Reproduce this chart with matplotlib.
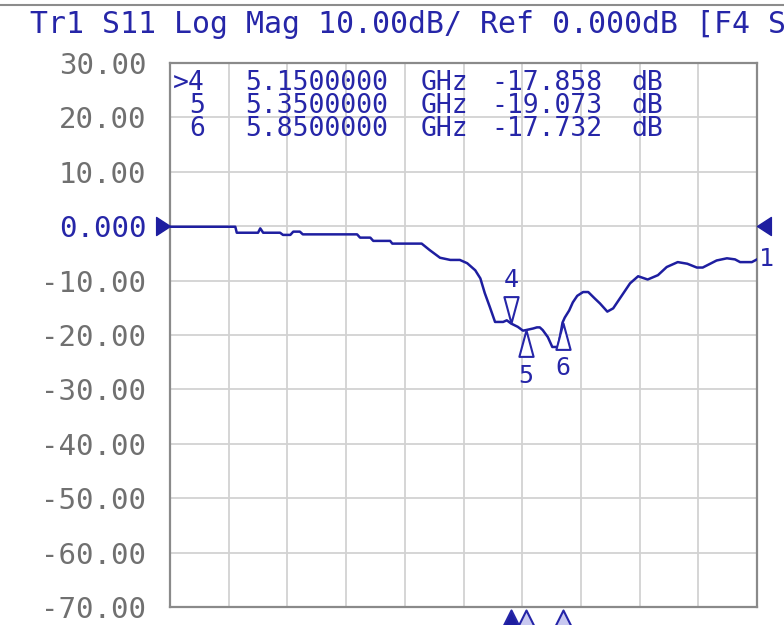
import numpy as np
import matplotlib.pyplot as plt
from matplotlib.path import Path
from matplotlib.lines import Line2D
import matplotlib.transforms as mtransforms

# S11 trace (GHz, dB)
freq_ghz = [0.50, 1.39, 1.41, 1.70, 1.73, 1.77, 2.00, 2.04, 2.14, 2.18,
            2.27, 2.31, 3.05, 3.09, 3.23, 3.27, 3.50, 3.53, 3.93, 4.04,
            4.18, 4.32, 4.45, 4.55, 4.66, 4.73, 4.79, 4.86, 4.93, 5.04,
            5.09, 5.15, 5.24, 5.31, 5.35, 5.45, 5.50, 5.54, 5.58, 5.65,
            5.71, 5.79, 5.85, 5.88, 5.94, 5.99, 6.05, 6.13, 6.20, 6.29,
            6.36, 6.46, 6.54, 6.66, 6.77, 6.88, 7.01, 7.15, 7.27, 7.42,
            7.55, 7.68, 7.76, 7.95, 8.09, 8.20, 8.27, 8.43, 8.50]
s11_db = [-0.1, -0.1, -1.2, -1.2, -0.4, -1.2, -1.2, -1.6, -1.6, -1.0,
          -1.0, -1.5, -1.5, -2.1, -2.1, -2.7, -2.7, -3.2, -3.2, -4.4,
          -5.8, -6.2, -6.2, -6.8, -8.1, -9.6, -12.3, -14.9, -17.6, -17.6,
          -17.3, -17.9, -18.5, -19.2, -19.1, -18.8, -18.6, -18.6, -19.1, -20.4,
          -22.2, -22.2, -17.7, -16.8, -15.5, -14.0, -12.8, -12.1, -12.1, -13.3,
          -14.2, -15.7, -15.1, -12.7, -10.5, -9.2, -9.8, -9.0, -7.5, -6.6,
          -6.9, -7.6, -7.6, -6.3, -5.9, -6.1, -6.6, -6.6, -6.1]

# markers
mk_ids = ['4', '5', '6']
mk_freq = [5.15, 5.35, 5.85]
mk_db = [-17.858, -19.073, -17.732]
mk_rows = ['>4', '5', '6']
mk_freq_txt = ['5.1500000', '5.3500000', '5.8500000']
mk_db_txt = ['-17.858', '-19.073', '-17.732']

f_start, f_stop = 0.5, 8.5
y_top, y_bot = 30, -70
ytick_vals = [30, 20, 10, 0, -10, -20, -30, -40, -50, -60, -70]
ytick_labels = ['30.00', '20.00', '10.00', '0.000', '-10.00', '-20.00',
                '-30.00', '-40.00', '-50.00', '-60.00', '-70.00']
title = 'Tr1 S11 Log Mag 10.00dB/ Ref 0.000dB [F4 S11]'

blue = '#2626a8'
trace_col = '#1e1ea0'
gray_txt = '#707070'
grid_col = '#d2d2d2'

plt.rcParams['font.family'] = 'DejaVu Sans Mono'
fs = 21
fs_tab = 19

fig = plt.figure(figsize=(7.84, 6.25), dpi=100)
ax = fig.add_axes([170/784, 18/625, 587/784, 544/625])

ax.plot(freq_ghz, s11_db, color=trace_col, lw=1.8, zorder=3)

ax.set_xlim(f_start, f_stop)
ax.set_ylim(y_bot, y_top)
ax.set_xticks(np.linspace(f_start, f_stop, 11))
ax.set_xticklabels([])
ax.set_yticks(ytick_vals)
ax.set_yticklabels(ytick_labels, fontsize=fs)
for lab, v in zip(ax.get_yticklabels(), ytick_vals):
    lab.set_color(blue if v == 0 else gray_txt)
ax.tick_params(length=0, pad=17)
ax.grid(True, color=grid_col, lw=1.3)
ax.set_axisbelow(True)
for s in ax.spines.values():
    s.set_color('#8a8a8a')
    s.set_linewidth(1.6)

# marker shapes (tip at the data point)
down_tri = Path([(-0.27, 1), (0.27, 1), (0, 0), (-0.27, 1)], closed=True)
up_tri = Path([(-0.27, -1), (0.27, -1), (0, 0), (-0.27, -1)], closed=True)
foot_tri = Path([(-0.5, -1), (0.5, -1), (0, 0), (-0.5, -1)], closed=True)
right_tri = Path([(-1, 0.65), (-1, -0.65), (0, 0), (-1, 0.65)], closed=True)
left_tri = Path([(1, 0.65), (1, -0.65), (0, 0), (1, 0.65)], closed=True)

for i in range(len(mk_ids)):
    if i == 0:
        ax.plot(mk_freq[i], mk_db[i], marker=down_tri, ms=38, mfc='white',
                mec=blue, mew=1.5, ls='none', zorder=5)
        ax.annotate(mk_ids[i], (mk_freq[i], mk_db[i]), xytext=(0, 31),
                    textcoords='offset points', ha='center', va='center',
                    color=blue, fontsize=18)
    else:
        ax.plot(mk_freq[i], mk_db[i], marker=up_tri, ms=38, mfc='white',
                mec=blue, mew=1.5, ls='none', zorder=5)
        ax.annotate(mk_ids[i], (mk_freq[i], mk_db[i]), xytext=(0, -33),
                    textcoords='offset points', ha='center', va='center',
                    color=blue, fontsize=18)

# marker position flags under the graticule
bx = mtransforms.blended_transform_factory(ax.transData, ax.transAxes)
for i in reversed(range(len(mk_ids))):
    face = trace_col if i == 0 else '#c8c8f0'
    ax.plot(mk_freq[i], -0.005, marker=foot_tri, ms=24, mfc=face, mec=blue,
            mew=1.5, ls='none', transform=bx, clip_on=False, zorder=6)

# reference level arrows and trace number
by = mtransforms.blended_transform_factory(ax.transAxes, ax.transData)
ax.plot(0, 0, marker=right_tri, ms=20, color=trace_col, transform=by,
        clip_on=False, zorder=6)
ax.plot(1, 0, marker=left_tri, ms=20, color=trace_col, transform=by,
        clip_on=False, zorder=6)
ax.text(1.003, s11_db[-1], '1', transform=by, ha='left', va='center',
        color=blue, fontsize=18)

# marker readout table, column by column
row_y = [0.9632, 0.921, 0.8787]
col_x = [0.0596, 0.1278, 0.4276, 0.5468, 0.786]
for i in range(len(mk_rows)):
    cells = [mk_rows[i], mk_freq_txt[i], 'GHz', mk_db_txt[i], 'dB']
    for j, c in enumerate(cells):
        ax.text(col_x[j], row_y[i], c, transform=ax.transAxes,
                ha='right' if j == 0 else 'left', va='center', color=blue,
                fontsize=fs_tab)

fig.text(30/784, 1 - 33/625, title, ha='left', va='baseline', color=blue,
         fontsize=21.5)
fig.add_artist(Line2D([0, 1], [1 - 5/625, 1 - 5/625], color='#8c8c8c', lw=1.5,
                      transform=fig.transFigure))

fig.savefig('out.png', dpi=100)
